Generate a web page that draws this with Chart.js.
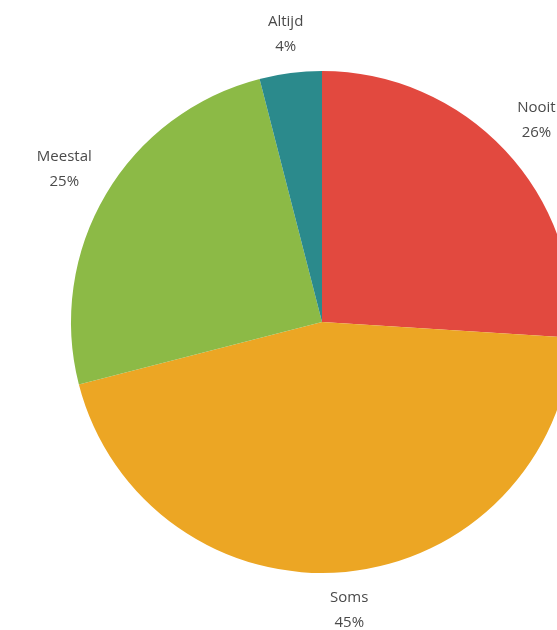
<!DOCTYPE html>
<html>
<head>
<meta charset="utf-8">
<script src="https://cdn.jsdelivr.net/npm/chart.js@4"></script>
<style>
  html, body { margin: 0; padding: 0; background: #fff; overflow: hidden; }
  #wrap { width: 557px; height: 630px; overflow: hidden; position: relative; }
  #pie { position: absolute; left: 0; top: 0; }
</style>
</head>
<body>
<div id="wrap"><canvas id="pie" width="644" height="630"></canvas></div>
<script>
const labels = ["Nooit", "Soms", "Meestal", "Altijd"];
const values = [26, 45, 25, 4];
const colors = ["#e2493f", "#eca624", "#8cba46", "#2b8a8c"];

// label text drawn outside each slice, two lines: name and percentage
const outsideLabels = {
  id: "outsideLabels",
  afterDatasetsDraw(chart) {
    const ctx = chart.ctx;
    const meta = chart.getDatasetMeta(0);
    ctx.save();
    ctx.font = "15px 'Open Sans'";
    ctx.fillStyle = "#4a4a4a";
    ctx.textAlign = "center";
    ctx.textBaseline = "middle";
    const lineH = 25;
    meta.data.forEach((arc, i) => {
      const lines = [labels[i], values[i] + "%"];
      const w = Math.max(...lines.map((t) => ctx.measureText(t).width));
      const h = lineH * 2;
      const a = (arc.startAngle + arc.endAngle) / 2;
      const dx = Math.cos(a);
      const dy = Math.sin(a);
      const d = arc.outerRadius + 12 + Math.abs(dx) * w / 2 + Math.abs(dy) * h / 2;
      const cx = arc.x + dx * d;
      const cy = arc.y + dy * d;
      ctx.fillText(lines[0], cx, cy - lineH / 2);
      ctx.fillText(lines[1], cx, cy + lineH / 2);
    });
    ctx.restore();
  },
};

new Chart(document.querySelector("#pie").getContext("2d"), {
  type: "pie",
  data: {
    labels,
    datasets: [{
      data: values,
      backgroundColor: colors,
      borderWidth: 0,
    }],
  },
  options: {
    responsive: false,
    animation: false,
    layout: {
      padding: { top: 71, bottom: 57, left: 71, right: 71 },
    },
    plugins: {
      legend: { display: false },
      tooltip: { enabled: false },
    },
  },
  plugins: [outsideLabels],
});
</script>
</body>
</html>
